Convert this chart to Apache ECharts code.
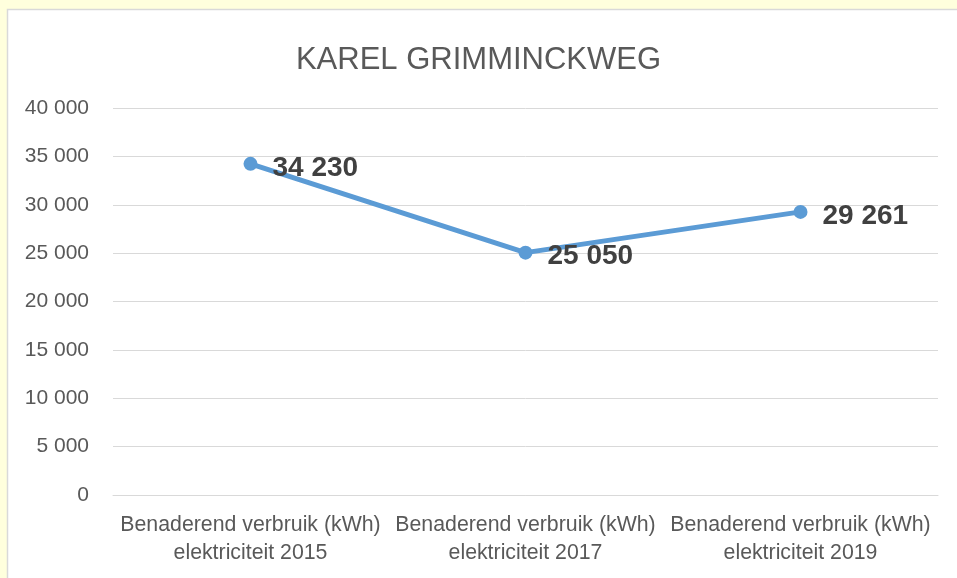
<!DOCTYPE html>
<html>
<head>
<meta charset="utf-8">
<script src="https://cdn.jsdelivr.net/npm/echarts@6/dist/echarts.min.js"></script>
<style>
  html, body { margin: 0; padding: 0; background: #FFFFDD; }
</style>
</head>
<body>
<div id="myChart" style="width: 957px; height: 578px;"></div>
<script>
var categories = [
  "Benaderend verbruik (kWh)\nelektriciteit 2015",
  "Benaderend verbruik (kWh)\nelektriciteit 2017",
  "Benaderend verbruik (kWh)\nelektriciteit 2019"
];
var verbruik = [34230, 25050, 29261];

// 34230 -> "34 230"
function spaced(v) {
  return String(v).replace(/\B(?=(\d{3})+(?!\d))/g, " ");
}

var myChart = echarts.init(document.getElementById("myChart"));
var font = "Liberation Sans";

var option = {
  backgroundColor: "#FFFFDD",
  graphic: [
    {
      type: "rect",
      z: -10,
      shape: { x: 7.5, y: 9.5, width: 980, height: 600 },
      style: { fill: "#ffffff", stroke: "#D9D9D9", lineWidth: 1.5 }
    }
  ],
  title: {
    text: "KAREL GRIMMINCKWEG",
    left: "center",
    top: 40,
    textStyle: {
      color: "#595959",
      fontFamily: font,
      fontWeight: "normal",
      fontSize: 31
    }
  },
  grid: {
    left: 113,
    right: 19,
    top: 108,
    bottom: 83
  },
  xAxis: {
    type: "category",
    data: categories,
    axisLine: { lineStyle: { color: "#D9D9D9", width: 1 } },
    axisTick: { show: false },
    axisLabel: {
      interval: 0,
      color: "#595959",
      fontFamily: font,
      fontSize: 21.3,
      lineHeight: 28,
      margin: 16
    }
  },
  yAxis: {
    type: "value",
    min: 0,
    max: 40000,
    interval: 5000,
    axisLine: { show: false },
    axisTick: { show: false },
    splitLine: { lineStyle: { color: "#D9D9D9", width: 1 } },
    axisLabel: {
      color: "#595959",
      fontFamily: font,
      fontSize: 21,
      margin: 24,
      formatter: spaced
    }
  },
  series: [
    {
      type: "line",
      data: verbruik,
      symbol: "circle",
      symbolSize: 14,
      itemStyle: { color: "#5B9BD5" },
      lineStyle: { color: "#5B9BD5", width: 5 },
      label: {
        show: true,
        position: "right",
        distance: 15,
        offset: [0, 4],
        color: "#404040",
        fontFamily: font,
        fontWeight: "bold",
        fontSize: 28,
        formatter: function (p) { return spaced(p.value); }
      }
    }
  ]
};

myChart.setOption(option);
</script>
</body>
</html>
